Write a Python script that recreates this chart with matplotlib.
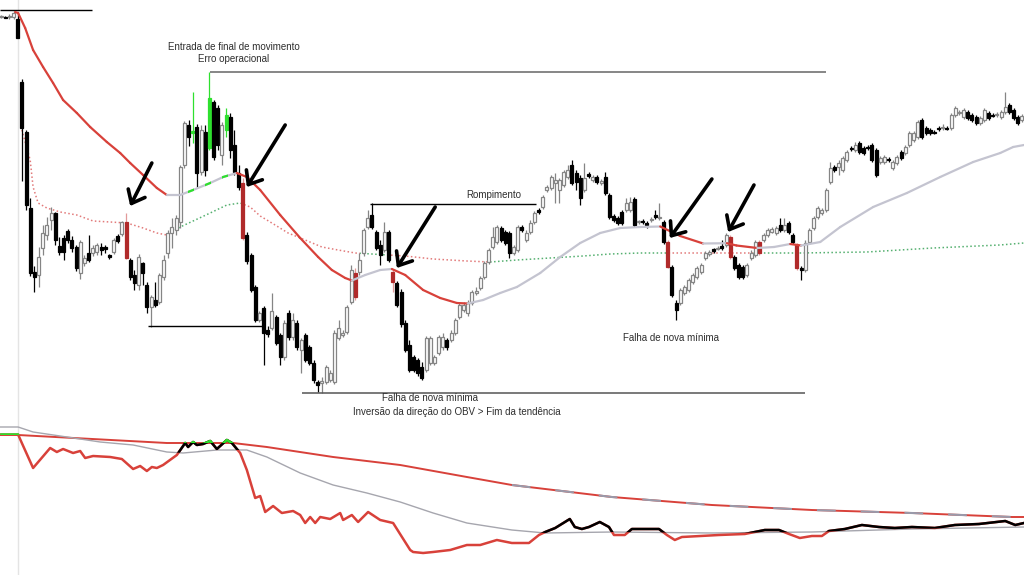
import numpy as np
import matplotlib.pyplot as plt
from matplotlib.lines import Line2D
from matplotlib.patches import Rectangle, Polygon
from matplotlib.collections import LineCollection

# candles; price axis is drawn inverted (smaller number = higher on screen)
opens = [17, 17, 17, 17, 19, 82, 132, 208, 272, 275,
         248, 235, 220, 213, 246, 238, 231, 240, 247, 273,
         263, 253, 253, 252, 247, 247, 255, 252, 236, 234,
         222, 260, 275, 285, 263, 285, 307, 300, 302, 277,
         253, 233, 230, 222, 165, 125, 133, 127, 172, 132,
         148, 102, 108, 155, 130, 117, 145, 173, 183, 235,
         255, 287, 320, 308, 330, 328, 317, 335, 357, 313,
         337, 323, 350, 335, 347, 363, 382, 383, 382, 380,
         382, 338, 335, 332, 302, 273, 272, 253, 227, 215,
         232, 245, 250, 232, 272, 283, 292, 323, 345, 357,
         360, 367, 370, 363, 363, 353, 347, 340, 340, 333,
         317, 310, 313, 303, 293, 288, 277, 262, 247, 242,
         228, 232, 233, 253, 250, 227, 240, 232, 222, 210,
         207, 190, 188, 183, 190, 185, 177, 165, 173, 178,
         190, 174, 180, 177, 183, 177, 195, 216, 218, 212,
         210, 210, 199, 222, 221, 223, 220, 215, 218, 222,
         242, 267, 303, 303, 293, 290, 282, 277, 272, 258,
         254, 249, 248.5, 246, 245, 237, 257, 265, 267, 275,
         258, 255, 242, 240, 235, 232, 233, 225, 230, 223,
         235, 245, 268, 270, 242, 228, 217, 213, 210, 182,
         167, 167, 170, 160, 148, 150, 143, 148, 147, 145,
         150, 162, 162, 159, 168, 163, 152, 153, 145, 140,
         137, 120, 128, 130, 132, 128, 128, 128, 128, 115,
         113, 117, 112, 115, 117, 123, 120, 113, 115, 115,
         117, 112, 105, 110, 117, 120]
highs = [15, 16, 14, 11, 13, 79, 130, 198, 266, 247,
         225, 217, 207, 212, 237, 235, 229, 236, 245, 240,
         255, 235, 245, 243, 243, 245, 254, 238, 234, 221,
         213, 258, 270, 254, 262, 282, 295, 282, 273, 255,
         230, 218, 215, 165, 121, 120, 92, 124, 125, 125,
         72, 100, 105, 122, 108, 113, 130, 165, 178, 232,
         253, 285, 311, 306, 326, 293, 315, 333, 320, 310,
         313, 320, 338, 333, 345, 360, 380, 377, 365, 370,
         330, 320, 330, 305, 265, 268, 253, 228, 210, 203,
         230, 240, 222, 230, 270, 281, 289, 320, 340, 355,
         358, 362, 336, 336, 355, 335, 333, 338, 330, 318,
         302, 302, 300, 290, 287, 276, 261, 248, 227, 225,
         226, 230, 231, 245, 225, 225, 230, 220, 211, 208,
         195, 185, 175, 173, 178, 170, 165, 160, 170, 175,
         163, 172, 175, 175, 179, 172, 193, 214, 216, 210,
         198, 197, 197, 220, 219, 221, 217, 210, 203, 220,
         240, 265, 300, 288, 285, 278, 273, 266, 263, 251,
         250, 248, 246, 240, 233, 235, 255, 263, 265, 263,
         250, 240, 240, 233, 228, 227, 226, 218, 218, 221,
         233, 243, 266, 240, 228, 216, 206, 208, 188, 162,
         165, 160, 156, 150, 146, 142, 141, 146, 145, 143,
         148, 156, 155, 157, 160, 155, 150, 145, 131, 131,
         120, 118, 126, 128, 130, 126, 124, 126, 113, 106,
         110, 108, 110, 113, 115, 116, 108, 111, 113, 112,
         110, 92, 103, 108, 115, 114]
lows = [18, 18, 19, 19, 38, 181, 210, 276, 292, 287,
        255, 240, 230, 245, 255, 260, 243, 252, 271, 279,
        266, 262, 256, 255, 255, 253, 259, 254, 243, 236,
        259, 280, 290, 290, 285, 313, 327, 307, 304, 280,
        258, 248, 235, 228, 168, 146, 143, 187, 175, 176,
        150, 160, 150, 165, 137, 158, 175, 190, 240, 264,
        292, 322, 322, 365, 337, 330, 345, 365, 360, 340,
        340, 350, 373, 362, 365, 383, 392, 393, 384, 382,
        384, 340, 337, 334, 304, 300, 275, 256, 229, 229,
        250, 265, 252, 262, 292, 307, 327, 352, 372, 372,
        376, 380, 372, 365, 365, 355, 350, 350, 342, 335,
        319, 312, 316, 305, 295, 290, 279, 264, 249, 244,
        242, 245, 258, 255, 252, 232, 242, 234, 224, 214,
        209, 192, 190, 203, 203, 187, 179, 185, 190, 205,
        192, 178, 182, 184, 185, 195, 219, 222, 225, 225,
        212, 212, 227, 224, 224, 228, 222, 219, 220, 244,
        268, 297, 320, 305, 295, 292, 284, 279, 274, 260,
        256, 253, 250, 250, 247, 259, 270, 279, 279, 277,
        260, 257, 255, 242, 237, 233, 235, 232, 232, 234,
        244, 270, 280, 272, 244, 230, 219, 215, 212, 184,
        172, 175, 172, 162, 151, 152, 154, 155, 150, 162,
        177, 164, 164, 162, 170, 165, 160, 155, 147, 142,
        139, 139, 135, 135, 134, 131, 130, 130, 130, 117,
        115, 119, 120, 122, 125, 125, 122, 120, 117, 117,
        119, 114, 114, 120, 125, 122]
closes = [16, 17.5, 16, 13, 38, 128, 205, 273, 277, 257,
          233, 225, 213, 240, 252, 252, 240, 248, 268, 242,
          258, 260, 248, 245, 250, 249, 257, 240, 241, 222,
          258, 277, 283, 257, 273, 307, 297, 305, 275, 260,
          233, 227, 218, 167, 123, 137, 131, 173, 130, 170,
          98, 157, 145, 125, 115, 150, 172, 187, 238, 261,
          290, 320, 313, 333, 334, 311, 343, 357, 323, 337,
          320, 347, 340, 360, 363, 380, 385, 381, 367, 373,
          333, 328, 333, 307, 270, 297, 260, 230, 218, 227,
          248, 255, 232, 260, 282, 305, 324, 350, 370, 370,
          373, 378, 338, 338, 357, 337, 337, 347, 333, 320,
          305, 305, 303, 292, 291, 278, 263, 250, 237, 227,
          240, 243, 253, 247, 227, 230, 233, 223, 213, 212,
          197, 187, 177, 180, 180, 172, 170, 183, 182, 198,
          178, 176, 177, 182, 181, 193, 217, 220, 223, 223,
          203, 202, 225, 221, 222, 225, 219, 217, 217, 242,
          267, 295, 310, 290, 287, 280, 275, 268, 265, 253,
          252, 251, 248, 248, 235, 257, 268, 277, 277, 265,
          253, 242, 253, 235, 230, 229, 228, 230, 225, 232,
          242, 268, 270, 243, 230, 218, 208, 210, 190, 168,
          170, 163, 158, 152, 149, 145, 152, 153, 148, 160,
          175, 158, 157, 160, 162, 157, 158, 147, 133, 133,
          122, 137, 133, 133, 132.5, 129, 127, 128.5, 115, 108,
          112, 110, 118, 120, 123, 118, 110, 118, 115.5, 114,
          112, 107, 112, 118, 123, 116]
red_bars = [30, 58, 85, 94, 160, 175, 182, 191]
green_bars = [46, 50, 54]

# fast moving average (bar position, level)
ma_x = [3.4, 4.1, 5.8, 7.7, 10.1, 12.5, 14.9, 18.2, 21.4, 25.4, 28.6, 31.0, 34.1,
        37.4, 39.8, 43.0, 46.1, 50.2, 53.3, 56.6, 59.0, 62.2, 67.0, 71.8, 76.1,
        79.4, 82.6, 84.2, 87.4, 91.0, 93.8, 97.0, 101.3, 105.4, 109.4, 112.0,
        115.7, 119.8, 123.8, 129.4, 134.2, 139.0, 143.8, 148.6, 153.4, 158.2,
        163.0, 168.5, 174.2, 176.5, 181.5, 185.5, 189.4, 192.0, 196.6, 201.4,
        209.3, 217.4, 225.4, 233.3, 239.8, 242.9, 245.5]
ma_y = [12, 13, 28, 50, 67, 83, 100, 113, 127, 142, 153, 163, 175,
        188, 195, 195, 190, 183, 177, 173, 177, 190, 215, 238, 257,
        270, 278, 280.5, 275, 270, 269, 275, 290, 298, 303, 303.5,
        300, 293, 287, 273, 257, 243, 233, 228, 227, 226.5,
        236, 243.5, 243.2, 245.5, 248, 247, 244, 245.5, 242, 227,
        207, 193, 177, 162, 153, 147, 145]
ma_green = [(44.9, 46.4), (49.0, 50.3), (53.0, 54.4)]

# slow moving average (dotted) and the spans where it is shown green
slow_x = [5.0, 7.0, 7.7, 8.9, 11.0, 14.2, 18.2, 22.1, 26.2, 30.2, 34.1, 37.4, 39.8,
          43.0, 46.1, 50.2, 54.2, 57.4, 59.8, 62.2, 65.0, 68.9, 73.0, 77.0, 80.9,
          85.0, 89.0, 92.9, 97.0, 103.7, 111.8, 117.4, 123.8, 131.8, 139.7, 146.2,
          153.4, 167.7, 182.1, 191.7, 207.8, 223.7, 239.7, 245.5]
slow_y = [130, 160, 187, 203, 208, 212, 215, 221, 222, 223, 228, 233, 235,
          227, 221, 213, 205, 203, 207, 216, 223, 233, 240, 247, 250,
          253, 254, 255, 256, 259, 261, 262, 260, 258, 256, 254,
          253, 253, 253, 253, 252, 248, 245, 243]
slow_green = [(40.6, 58.6), (86.2, 92.9), (117.4, 159.8), (180.5, 245.6)]

# OBV panel
obv_x = [-0.2, 4.1, 5.0, 7.7, 11.8, 13.4, 14.9, 17.3, 19.0, 20.2, 22.1, 26.2, 29.0,
         31.7, 33.4, 35.0, 36.2, 37.4, 38.9, 42.2, 44.2, 44.9, 46.1, 47.0, 48.5,
         50.2, 51.8, 54.2, 55.4, 57.4, 59.0, 61.0, 62.2, 63.4, 65.3, 67.4, 70.1,
         71.8, 73.0, 74.2, 75.4, 76.6, 79.0, 81.4, 82.1, 84.2, 85.7, 88.1, 91.0,
         94.1, 98.2, 98.9, 101.3, 103.7, 107.8, 111.8, 115.0, 119.0, 122.6, 126.7,
         129.1, 130.6, 133.0, 136.5, 137.7, 139.4, 141.1, 143.7, 145.9, 147.1,
         149.7, 151.4, 157.9, 159.8, 161.7, 163.4, 172.3, 178.5, 183.3, 186.7,
         189.1, 191.7, 194.6, 197.0, 198.7, 202.5, 206.6, 210.7, 214.5, 218.6,
         224.1, 228.9, 234.7, 241.0, 243.4, 245.5]
obv_y = [434.5, 434.5, 443, 468, 448, 452, 449, 453, 451, 458, 456, 457, 459,
         469, 466, 471, 467, 468, 465, 455, 443, 447, 442, 445, 444,
         441, 449, 440, 443, 453, 470, 498, 496, 512, 506, 513, 511,
         515, 523, 517, 523, 517, 519, 513, 520, 515, 522, 512, 520,
         523, 550, 552, 553, 552, 550, 545, 545, 540, 543, 543,
         535, 532, 528, 519, 527, 529, 527, 522, 527, 535,
         535, 529, 529, 535, 540, 537, 535, 534, 530, 530,
         534, 538, 536, 536, 531, 529, 525, 527, 528, 527,
         528, 525, 524, 521, 525, 523]
sig_x = [-0.2, 4.1, 7.7, 15.8, 23.8, 31.7, 39.8, 43.7, 51.8, 59.0, 63.8, 71.8,
         79.7, 87.8, 95.8, 103.7, 111.8, 122.6, 130.6, 146.6, 170.6, 194.6, 218.6, 245.5]
sig_y = [427, 427, 432, 437, 442, 445, 452, 453, 450, 450, 457, 473,
         485, 493, 502, 513, 523, 530, 533, 532, 533, 532, 529, 527]
long_x = [-0.2, 4.1, 39.8, 55.7, 63.8, 79.7, 95.8, 111.8, 122.6, 146.6, 170.6,
          194.6, 218.6, 242.6, 245.5]
long_y = [435, 435, 443, 443, 447, 457, 465, 477, 485, 497, 505, 510, 513, 517, 517]

RED = '#d8413a'
MA_GREY = '#c4c4d0'
GREEN = '#2ee02e'

fig = plt.figure(figsize=(10.24, 5.75), dpi=100)
fig.patch.set_facecolor('white')

ax = fig.add_axes([0, 175 / 575, 1, 400 / 575])
ax.set_xlim(-0.24, 245.5)
ax.set_ylim(400, 0)
ax.axis('off')

# candles
for i in range(len(closes)):
    o, c, h, l = opens[i], closes[i], highs[i], lows[i]
    if i in red_bars:
        fc, ec, wc = '#b02a2a', '#b02a2a', '#e29a9a'
    elif i in green_bars:
        fc, ec, wc = GREEN, GREEN, GREEN
    elif c < o:
        fc, ec, wc = 'white', '#858585', '#858585'
    else:
        fc, ec, wc = 'black', 'black', 'black'
    ax.vlines(i, h, l, color=wc, lw=0.9, zorder=2)
    ax.add_patch(Rectangle((i - 0.36, min(o, c)), 0.72, max(abs(o - c), 1.0),
                           fc=fc, ec=ec, lw=0.9, zorder=3))

# fast MA coloured by direction
pts = np.column_stack([ma_x, ma_y])
segs = np.stack([pts[:-1], pts[1:]], axis=1)
cols = [RED if b[1] > a[1] else MA_GREY for a, b in zip(pts[:-1], pts[1:])]
ax.add_collection(LineCollection(segs, colors=cols, linewidths=1.6, zorder=4,
                                 capstyle='round'))
for a, b in ma_green:
    ln, = ax.plot(ma_x, ma_y, color=GREEN, lw=1.6, zorder=4)
    ln.set_clip_path(Rectangle((a, 0), b - a, 400, transform=ax.transData))

# slow MA, dotted, green/red by trend state
edges = [s for span in slow_green for s in span]
red_spans = [(-1, slow_green[0][0])] + [(edges[k], edges[k + 1]) for k in range(1, len(edges) - 1, 2)]
for spans, col in [(slow_green, '#55b070'), (red_spans, '#e27a7a')]:
    for a, b in spans:
        ln, = ax.plot(slow_x, slow_y, color=col, lw=1.1, ls=(0, (1, 1.6)), zorder=1)
        ln.set_clip_path(Rectangle((a, 0), b - a, 400, transform=ax.transData))

# annotation lines
ax.hlines(10, -0.24, 21.8, color='black', lw=1)
ax.hlines(72, 50.2, 198.0, color='#666666', lw=1.1)
ax.hlines(204, 88.6, 128.4, color='black', lw=1)
ax.hlines(326, 35.3, 62.6, color='black', lw=1)
ax.hlines(393, 72.2, 193.0, color='#555555', lw=1.1)

arrows = [((36.2, 163), (31.0, 206)), ((68.2, 125), (59.0, 187)),
          ((104.2, 207), (95.0, 268)), ((170.6, 179), (160.5, 238)),
          ((180.7, 185), (174.5, 232))]
for tail, tip in arrows:
    ax.annotate('', xy=tip, xytext=tail, zorder=6,
                arrowprops=dict(arrowstyle='->,head_length=0.55,head_width=0.45',
                                lw=2.6, color='black', mutation_scale=15,
                                shrinkA=0, shrinkB=0))

tkw = dict(ha='center', va='center', fontsize=7, color='#2e2e2e', family='Liberation Sans')
ax.text(55.9, 47, 'Entrada de final de movimento', **tkw)
ax.text(55.9, 59, 'Erro operacional', **tkw)
ax.text(118.3, 195, 'Rompimento', **tkw)
ax.text(160.8, 338, 'Falha de nova mínima', **tkw)
ax.text(103.0, 398, 'Falha de nova mínima', **tkw)
ax.text(109.4, 412, 'Inversão da direção do OBV > Fim da tendência', **tkw)

# OBV panel
ax2 = fig.add_axes([0, 0, 1, 160 / 575])
ax2.set_xlim(-0.24, 245.5)
ax2.set_ylim(575, 415)
ax2.axis('off')

ax2.plot(long_x, long_y, color=RED, lw=1.4, zorder=1)
sel = [k for k, v in enumerate(long_x) if v >= 118]
ax2.plot([long_x[k] for k in sel], [long_y[k] for k in sel], color='#9a9aaa',
         lw=1.5, dashes=(9, 12), zorder=1)
ax2.plot(sig_x, sig_y, color='#a6a6ae', lw=1.0, zorder=2)

ax2.plot(obv_x, obv_y, color=RED, lw=1.8, zorder=3)
above_sig = Polygon(list(zip(sig_x, sig_y)) + [(sig_x[-1], 380), (sig_x[0], 380)],
                    closed=True, transform=ax2.transData)
above_long = Polygon(list(zip(long_x, long_y)) + [(long_x[-1], 380), (long_x[0], 380)],
                     closed=True, transform=ax2.transData)
blk, = ax2.plot(obv_x, obv_y, color='black', lw=1.8, zorder=4)
blk.set_clip_path(above_sig)
grn, = ax2.plot(obv_x, obv_y, color=GREEN, lw=1.8, zorder=5)
grn.set_clip_path(above_long)

# thin vertical separator
fig.add_artist(Line2D([18 / 1024, 18 / 1024], [0, 1], color='#e4e4e4', lw=1, zorder=0))

fig.savefig('out.png', dpi=100)
